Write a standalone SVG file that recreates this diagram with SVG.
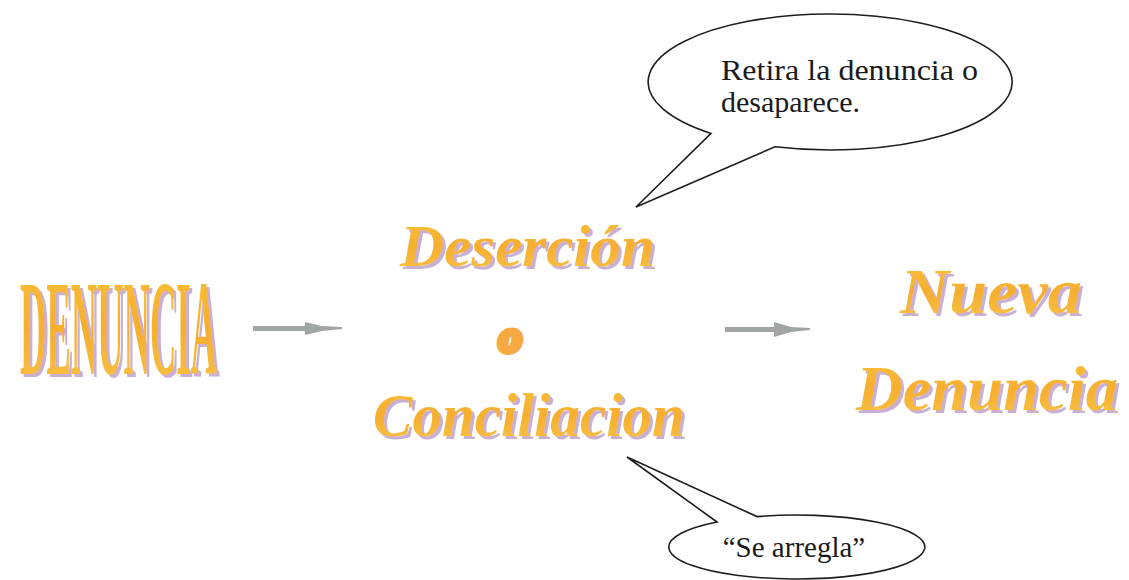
<svg xmlns="http://www.w3.org/2000/svg" width="1129" height="580" viewBox="0 0 1129 580">
<defs>
<linearGradient id="gold" x1="0" y1="0" x2="0" y2="1">
<stop offset="0" stop-color="#F9C23C"/>
<stop offset="0.5" stop-color="#F6AE2E"/>
<stop offset="1" stop-color="#F8C448"/>
</linearGradient>
<filter id="shadow" x="-10%" y="-10%" width="130%" height="130%">
<feOffset in="SourceAlpha" dx="3" dy="3" result="off"/>
<feFlood flood-color="#C9B0D2"/>
<feComposite in2="off" operator="in" result="sh"/>
<feMerge><feMergeNode in="sh"/><feMergeNode in="SourceGraphic"/></feMerge>
</filter>
</defs>
<style>
.wa{font-family:"Liberation Serif",serif;font-weight:bold;fill:url(#gold);filter:url(#shadow)}
.it{font-style:italic}
.callout{fill:#fff;stroke:#1e1e1e;stroke-width:1.6;stroke-linejoin:miter}
.ct{font-family:"Liberation Serif",serif;fill:#1a1a1a}
.arr{fill:#A2A5A5}
</style>
<rect width="1129" height="580" fill="#fff"/>
<g id="connectors">
<g id="arrow1">
<rect class="arr" x="253" y="326" width="62" height="5"/>
<polygon class="arr" points="305,322 322,326 342,327 342,329 322,331 305,335"/>
</g>
<g id="arrow2">
<rect class="arr" x="725" y="327" width="58" height="5"/>
<polygon class="arr" points="774,322 791,327 810,328 810,330 791,332 774,337"/>
</g>
</g>
<g id="callout-top">
<path class="callout" d="M 711,133.4 L 636,207 L 775,146.8 A 182 68 0 1 0 711,133.4 Z"/>
<text class="ct" x="721" y="80" font-size="30" textLength="257" lengthAdjust="spacingAndGlyphs">Retira la denuncia o</text>
<text class="ct" x="721" y="112" font-size="30">desaparece.</text>
</g>
<g id="callout-bottom">
<path class="callout" d="M 717,522 L 627,457 L 757,516.6 A 128 32 0 1 1 717,522 Z"/>
<text class="ct" x="794" y="557" font-size="29" text-anchor="middle">“Se arregla”</text>
</g>
<g id="node-denuncia">
<text class="wa" x="20" y="374" font-size="136" textLength="197" lengthAdjust="spacingAndGlyphs">DENUNCIA</text>
</g>
<g id="node-desercion">
<text class="wa it" x="400" y="266" font-size="60" textLength="255" lengthAdjust="spacingAndGlyphs">Deserción</text>
</g>
<g id="node-o">
<text x="499" y="352" font-size="46" font-family="Liberation Serif,serif" font-weight="bold" font-style="italic" fill="#F6A940" stroke="#F6A940" stroke-width="6">o</text>
</g>
<g id="node-conciliacion">
<text class="wa it" x="373" y="436" font-size="62" textLength="312" lengthAdjust="spacingAndGlyphs">Conciliacion</text>
</g>
<g id="node-nueva-denuncia">
<text class="wa it" x="900" y="313" font-size="64" textLength="182" lengthAdjust="spacingAndGlyphs">Nueva</text>
<text class="wa it" x="856" y="410" font-size="64" textLength="262" lengthAdjust="spacingAndGlyphs">Denuncia</text>
</g>
</svg>
